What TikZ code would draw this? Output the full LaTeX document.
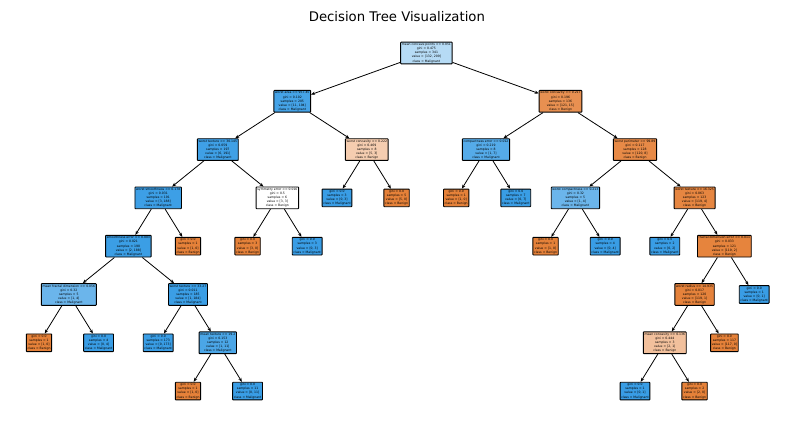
\documentclass[tikz,border=0pt]{standalone}
\usepackage{fontspec}
\setmainfont{DejaVu Sans}
\usepackage{tikz}
\usetikzlibrary{arrows.meta}
\definecolor{benign}{RGB}{229,129,57}
\definecolor{malig}{RGB}{57,157,229}
\tikzstyle{treebox}=[draw=black,line width=0.9bp,rounded corners=0.6bp,inner sep=1.2bp,align=center,font=\fontsize{3.1}{4.1}\selectfont]
\tikzstyle{treearrow}=[-{Stealth[length=4bp,width=3.2bp]},line width=0.8bp]
\newcommand{\leafinfo}[3]{gini = 0.0\\samples = #1\\value = [#2]\\class = #3}
\newcommand{\splitinfo}[5]{#1\\gini = #2\\samples = #3\\value = [#4]\\class = #5}

\begin{document}
\begin{tikzpicture}[x=29.8bp,y=-48.3bp]
  \useasboundingbox (-1.309,-1.097) rectangle (25.336,7.702);
  \node[font=\fontsize{13.3}{16}\selectfont] (title) at (12.01,-0.745) {Decision Tree Visualization};
  % splits
  \node[treebox,fill=malig!37!white] (n0) at (13,0) {\splitinfo{mean concave points <= 0.051}{0.475}{341}{132, 209}{Malignant}};
  \node[treebox,fill=malig!94!white] (n1) at (8.5,1) {\splitinfo{worst area <= 957.45}{0.102}{205}{11, 194}{Malignant}};
  \node[treebox,fill=malig!97!white] (n2) at (6,2) {\splitinfo{worst texture <= 30.145}{0.059}{197}{6, 191}{Malignant}};
  \node[treebox,fill=malig!98!white] (n3) at (4,3) {\splitinfo{worst smoothness <= 0.178}{0.031}{191}{3, 188}{Malignant}};
  \node[treebox,fill=malig!99!white] (n4) at (3,4) {\splitinfo{smoothness error <= 0.003}{0.021}{190}{2, 188}{Malignant}};
  \node[treebox,fill=malig!75!white] (n5) at (1,5) {\splitinfo{mean fractal dimension <= 0.056}{0.32}{5}{1, 4}{Malignant}};
  \node[treebox,fill=malig!99!white] (n8) at (5,5) {\splitinfo{worst texture <= 33.27}{0.011}{185}{1, 184}{Malignant}};
  \node[treebox,fill=malig!91!white] (n10) at (6,6) {\splitinfo{mean texture <= 19.2}{0.153}{12}{1, 11}{Malignant}};
  \node[treebox,fill=white] (n14) at (8,3) {\splitinfo{symmetry error <= 0.016}{0.5}{6}{3, 3}{Benign}};
  \node[treebox,fill=benign!40!white] (n17) at (11,2) {\splitinfo{worst concavity <= 0.222}{0.469}{8}{5, 3}{Benign}};
  \node[treebox,fill=benign!88!white] (n20) at (17.5,1) {\splitinfo{worst concavity <= 0.217}{0.196}{136}{121, 15}{Benign}};
  \node[treebox,fill=malig!86!white] (n21) at (15,2) {\splitinfo{compactness error <= 0.012}{0.219}{8}{1, 7}{Malignant}};
  \node[treebox,fill=benign!93!white] (n24) at (20,2) {\splitinfo{worst perimeter <= 99.89}{0.117}{128}{120, 8}{Benign}};
  \node[treebox,fill=malig!75!white] (n25) at (18,3) {\splitinfo{worst compactness <= 0.213}{0.32}{5}{1, 4}{Malignant}};
  \node[treebox,fill=benign!96!white] (n28) at (22,3) {\splitinfo{worst texture <= 16.325}{0.063}{123}{119, 4}{Benign}};
  \node[treebox,fill=benign!98!white] (n30) at (23,4) {\splitinfo{fractal dimension error <= 0.011}{0.033}{121}{119, 2}{Benign}};
  \node[treebox,fill=benign!99!white] (n31) at (22,5) {\splitinfo{worst radius <= 14.935}{0.017}{120}{119, 1}{Benign}};
  \node[treebox,fill=benign!50!white] (n32) at (21,6) {\splitinfo{mean concavity <= 0.136}{0.444}{3}{2, 1}{Benign}};
  % leaves
  \node[treebox,fill=benign] (n6) at (0,6) {\leafinfo{1}{1, 0}{Benign}};
  \node[treebox,fill=malig] (n7) at (2,6) {\leafinfo{4}{0, 4}{Malignant}};
  \node[treebox,fill=malig] (n9) at (4,6) {\leafinfo{173}{0, 173}{Malignant}};
  \node[treebox,fill=benign] (n11) at (5,7) {\leafinfo{1}{1, 0}{Benign}};
  \node[treebox,fill=malig] (n12) at (7,7) {\leafinfo{11}{0, 11}{Malignant}};
  \node[treebox,fill=benign] (n13) at (5,4) {\leafinfo{1}{1, 0}{Benign}};
  \node[treebox,fill=benign] (n15) at (7,4) {\leafinfo{3}{3, 0}{Benign}};
  \node[treebox,fill=malig] (n16) at (9,4) {\leafinfo{3}{0, 3}{Malignant}};
  \node[treebox,fill=malig] (n18) at (10,3) {\leafinfo{3}{0, 3}{Malignant}};
  \node[treebox,fill=benign] (n19) at (12,3) {\leafinfo{5}{5, 0}{Benign}};
  \node[treebox,fill=benign] (n22) at (14,3) {\leafinfo{1}{1, 0}{Benign}};
  \node[treebox,fill=malig] (n23) at (16,3) {\leafinfo{7}{0, 7}{Malignant}};
  \node[treebox,fill=benign] (n26) at (17,4) {\leafinfo{1}{1, 0}{Benign}};
  \node[treebox,fill=malig] (n27) at (19,4) {\leafinfo{4}{0, 4}{Malignant}};
  \node[treebox,fill=malig] (n29) at (21,4) {\leafinfo{2}{0, 2}{Malignant}};
  \node[treebox,fill=malig] (n33) at (20,7) {\leafinfo{1}{0, 1}{Malignant}};
  \node[treebox,fill=benign] (n34) at (22,7) {\leafinfo{2}{2, 0}{Benign}};
  \node[treebox,fill=benign] (n35) at (23,6) {\leafinfo{117}{117, 0}{Benign}};
  \node[treebox,fill=malig] (n36) at (24,5) {\leafinfo{1}{0, 1}{Malignant}};
  % edges
  \foreach \a/\b in {n0/n1,n1/n2,n2/n3,n3/n4,n4/n5,n5/n6,n5/n7,n4/n8,n8/n9,n8/n10,n10/n11,n10/n12,
      n3/n13,n2/n14,n14/n15,n14/n16,n1/n17,n17/n18,n17/n19,n0/n20,n20/n21,n21/n22,n21/n23,
      n20/n24,n24/n25,n25/n26,n25/n27,n24/n28,n28/n29,n28/n30,n30/n31,n31/n32,n32/n33,n32/n34,
      n31/n35,n30/n36}
    \draw[treearrow] (\a) -- (\b);
\end{tikzpicture}
\end{document}
